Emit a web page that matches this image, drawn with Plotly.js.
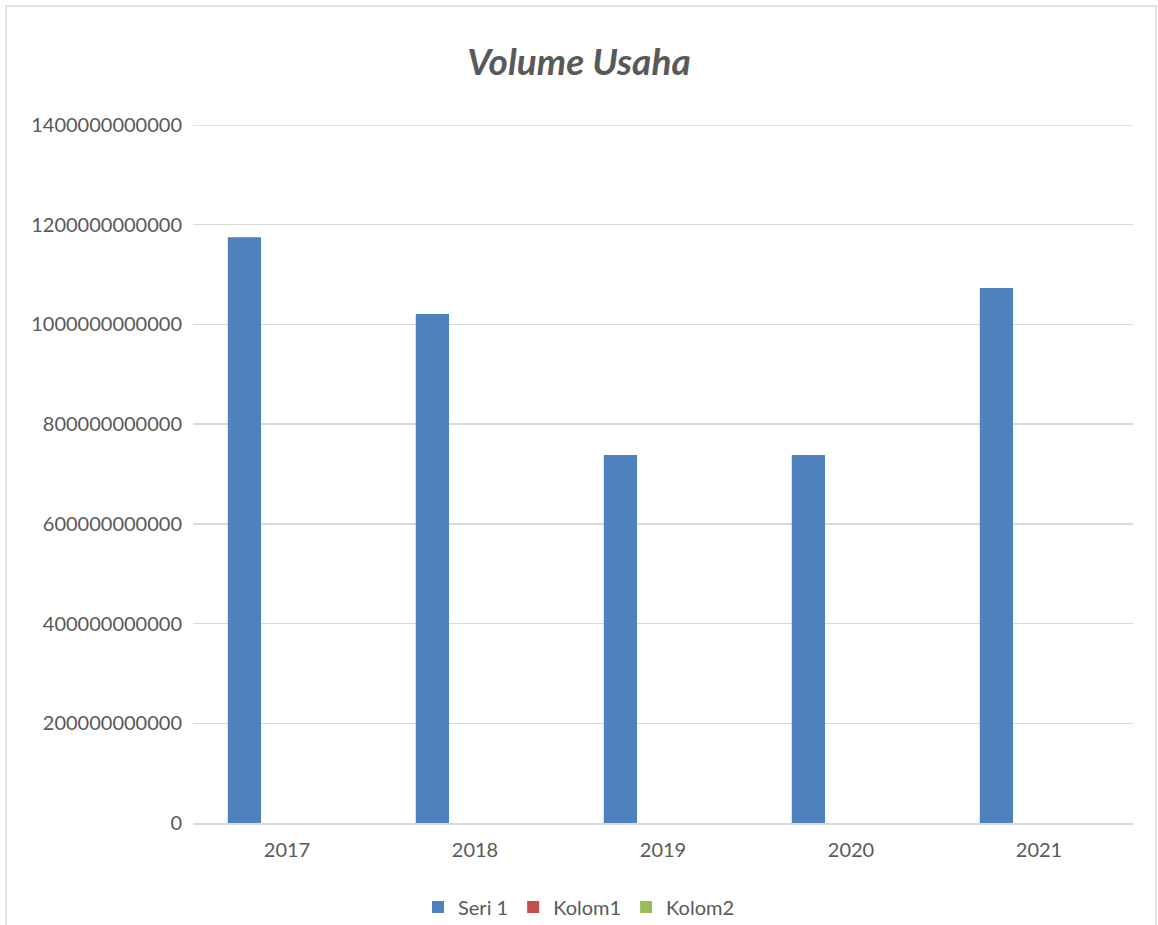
<!DOCTYPE html>
<html>
<head>
<meta charset="utf-8">
<script src="https://cdn.plot.ly/plotly-3.0.1.min.js"></script>
<style>
html,body{margin:0;padding:0;background:#fff;}
#chart{width:1158px;height:925px;}
</style>
</head>
<body>
<div id="chart"></div>
<script>
const years = ['2017', '2018', '2019', '2020', '2021'];
const seri1 = [1175000000000, 1021000000000, 738000000000, 738000000000, 1073000000000];
const kolom1 = [0, 0, 0, 0, 0];
const kolom2 = [0, 0, 0, 0, 0];
const yTicks = [0, 200000000000, 400000000000, 600000000000, 800000000000, 1000000000000, 1200000000000, 1400000000000];

const font = 'Lato, Carlito, Calibri, sans-serif';
const traces = [
  {type: 'bar', name: 'Seri 1', x: years, y: seri1, marker: {color: '#4F81BD'}},
  {type: 'bar', name: 'Kolom1', x: years, y: kolom1, marker: {color: '#C0504D'}},
  {type: 'bar', name: 'Kolom2', x: years, y: kolom2, marker: {color: '#9BBB59'}}
];

const yMax = yTicks[yTicks.length - 1];
const layout = {
  width: 1158, height: 925,
  margin: {l: 193, r: 25, t: 125, b: 102},
  paper_bgcolor: '#fff', plot_bgcolor: '#fff',
  font: {family: font, color: '#595959', size: 20},
  title: {text: '<b><i>Volume Usaha</i></b>', font: {family: font, size: 37, color: '#595959'},
          x: 0.5, xref: 'container', y: 1 - 62/925, yref: 'container', yanchor: 'middle'},
  barmode: 'group', bargap: 0.32, bargroupgap: 0.22,
  showlegend: true,
  legend: {orientation: 'h', xref: 'container', x: 0.5, xanchor: 'center',
           yref: 'container', y: 1 - 907/925, yanchor: 'middle',
           font: {family: font, size: 20, color: '#595959'}, itemwidth: 30, traceorder: 'normal'},
  xaxis: {type: 'category', showgrid: false, showline: true, linecolor: '#d9d9d9', linewidth: 1.5,
          ticks: '', ticklabelstandoff: 8, tickfont: {family: font, size: 20, color: '#595959'}},
  yaxis: {range: [0, yMax], tickvals: yTicks, ticktext: yTicks.map(v => String(v)),
          showgrid: true, gridcolor: '#d9d9d9', gridwidth: 1.5, zeroline: false, showline: false,
          ticks: '', ticklabelstandoff: 10, tickfont: {family: font, size: 20, color: '#595959'}},
  shapes: [
    {type: 'rect', xref: 'paper', yref: 'paper',
     x0: (6-193)/940, x1: (1156-193)/940, y0: -0.3, y1: (823-6)/698,
     line: {color: '#d9d9d9', width: 1.5}, fillcolor: 'rgba(0,0,0,0)', layer: 'below'},
    {type: 'line', xref: 'paper', yref: 'y', x0: 0, x1: 1, y0: yMax, y1: yMax,
     line: {color: '#d9d9d9', width: 1.5}, layer: 'below'}
  ]
};

Plotly.newPlot('chart', traces, layout, {displayModeBar: false, staticPlot: true});
</script>
</body>
</html>
